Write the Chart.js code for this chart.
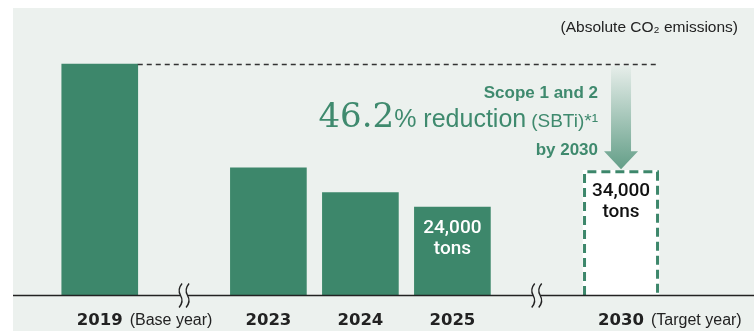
<!DOCTYPE html>
<html>
<head>
<meta charset="utf-8">
<script src="https://cdn.jsdelivr.net/npm/chart.js@4"></script>
<style>
  html, body { margin: 0; padding: 0; background: #fff; }
  canvas { display: block; }
</style>
</head>
<body>
<canvas id="co2Chart" width="754" height="331"></canvas>
<script>
// chart data
const years = ["2019", "2023", "2024", "2025", "2030"];
const yearNotes = ["(Base year)", "", "", "", "(Target year)"];
const emissions = [63000, 34700, 27900, 24000, 34000];
const valueLabels = ["", "", "", "24,000", "34,000"];
const valueUnit = "tons";
const breaksBefore = ["2023", "2030"];
const baseYear = "2019";
const targetYear = "2030";
const reductionPct = "46.2";

const GREEN = "#3d876b";
const TEXT_GREEN = "#3f8a6e";
const BG = "#ecf1ee";
const BREAK_EXTRA = 0.833;

// slot positions, with extra room where the axis is broken
const xPos = [];
let p = 0;
years.forEach((y, i) => {
  if (i > 0) p += 1 + (breaksBefore.includes(y) ? BREAK_EXTRA : 0);
  xPos.push(p);
});

const baseIdx = years.indexOf(baseYear);
const targetIdx = years.indexOf(targetYear);

const overlay = {
  id: "overlay",
  beforeDraw(chart) {
    const ctx = chart.ctx;
    ctx.save();
    ctx.fillStyle = BG;
    ctx.fillRect(13, 8, 741, 323);
    ctx.restore();
  },
  afterDatasetsDraw(chart) {
    const ctx = chart.ctx;
    const xs = chart.scales.x;
    const ys = chart.scales.y;
    const area = chart.chartArea;
    const bars = chart.getDatasetMeta(0).data;
    const half = bars[0].width / 2;
    ctx.save();

    // dashed reference line at base year level
    const baseY = ys.getPixelForValue(emissions[baseIdx]);
    ctx.strokeStyle = "#333";
    ctx.lineWidth = 1.3;
    ctx.setLineDash([5, 4]);
    ctx.beginPath();
    ctx.moveTo(bars[baseIdx].x + half, baseY + 0.5);
    ctx.lineTo(bars[targetIdx].x + half, baseY + 0.5);
    ctx.stroke();

    // dashed outline of the target bar
    const tb = bars[targetIdx];
    ctx.strokeStyle = GREEN;
    ctx.lineWidth = 3;
    ctx.setLineDash([9, 5]);
    ctx.beginPath();
    ctx.moveTo(tb.x - half + 1.5, area.bottom);
    ctx.lineTo(tb.x - half + 1.5, tb.y + 1.5);
    ctx.lineTo(tb.x + half - 1.5, tb.y + 1.5);
    ctx.lineTo(tb.x + half - 1.5, area.bottom);
    ctx.stroke();
    ctx.setLineDash([]);

    // axis line
    ctx.strokeStyle = "#222";
    ctx.lineWidth = 1.5;
    ctx.beginPath();
    ctx.moveTo(area.left, area.bottom + 0.5);
    ctx.lineTo(area.right, area.bottom + 0.5);
    ctx.stroke();

    // axis break marks
    breaksBefore.forEach((y) => {
      const i = years.indexOf(y);
      const cx = xs.getPixelForValue((xPos[i] + xPos[i - 1]) / 2);
      const cy = area.bottom + 0.5;
      ctx.fillStyle = BG;
      ctx.fillRect(cx - 3.5, cy - 2, 7, 4);
      ctx.strokeStyle = "#222";
      ctx.lineWidth = 1.4;
      [-3.5, 3.5].forEach((dx) => {
        const x = cx + dx;
        ctx.beginPath();
        ctx.moveTo(x + 1.5, cy - 12);
        ctx.quadraticCurveTo(x - 3.5, cy - 6, x, cy);
        ctx.quadraticCurveTo(x + 3.5, cy + 6, x - 1.5, cy + 12);
        ctx.stroke();
      });
    });

    // arrow from base level down to target
    const ax = tb.x;
    const top = baseY + 2;
    const tip = tb.y - 1;
    const headTop = tip - 18;
    const grad = ctx.createLinearGradient(0, top, 0, tip);
    grad.addColorStop(0, "rgba(61,135,107,0.03)");
    grad.addColorStop(1, "rgba(61,135,107,0.78)");
    ctx.fillStyle = grad;
    ctx.beginPath();
    ctx.moveTo(ax - 10, top);
    ctx.lineTo(ax + 10, top);
    ctx.lineTo(ax + 10, headTop);
    ctx.lineTo(ax + 17, headTop);
    ctx.lineTo(ax, tip);
    ctx.lineTo(ax - 17, headTop);
    ctx.lineTo(ax - 10, headTop);
    ctx.closePath();
    ctx.fill();

    // value labels inside bars
    ctx.textAlign = "center";
    ctx.textBaseline = "alphabetic";
    valueLabels.forEach((v, i) => {
      if (!v) return;
      const b = bars[i];
      ctx.fillStyle = i === targetIdx ? "#111" : "#fff";
      ctx.font = "500 19px Roboto, 'Liberation Sans', sans-serif";
      ctx.fillText(v, b.x, b.y + 26);
      ctx.fillText(valueUnit, b.x, b.y + 47);
    });

    // x labels
    years.forEach((y, i) => {
      const x = bars[i].x;
      const by = area.bottom + 30;
      ctx.font = "bold 16.5px 'DejaVu Sans', sans-serif";
      ctx.fillStyle = "#222";
      ctx.textAlign = "center";
      ctx.fillText(y, x, by);
      if (yearNotes[i]) {
        const w = ctx.measureText(y).width;
        ctx.font = "16px 'Liberation Sans', sans-serif";
        ctx.textAlign = "left";
        ctx.fillText(yearNotes[i], x + w / 2 + 7, by);
      }
    });

    // unit note
    ctx.font = "15.5px 'Liberation Sans', sans-serif";
    ctx.fillStyle = "#222";
    ctx.textAlign = "right";
    ctx.fillText("(Absolute CO\u2082 emissions)", 738, 32);

    // reduction annotation
    const rx = ax - 23;
    ctx.fillStyle = TEXT_GREEN;
    ctx.textAlign = "right";
    ctx.font = "bold 17px 'Liberation Sans', sans-serif";
    ctx.fillText("Scope 1 and 2", rx, 98);
    ctx.fillText("by " + targetYear, rx, 155);

    let cur = rx;
    ctx.font = "19px 'Liberation Sans', sans-serif";
    ctx.fillText("(SBTi)*\u00b9", cur, 127);
    cur -= ctx.measureText("(SBTi)*\u00b9").width + 5;
    ctx.font = "25px 'Liberation Sans', sans-serif";
    ctx.fillText("% reduction", cur, 127);
    cur -= ctx.measureText("% reduction").width;
    ctx.font = "34px 'DejaVu Serif', serif";
    ctx.fillText(reductionPct, cur, 127);

    ctx.restore();
  },
};

new Chart(document.getElementById("co2Chart"), {
  type: "bar",
  data: {
    datasets: [
      {
        data: years.map((y, i) => ({ x: xPos[i], y: emissions[i] })),
        backgroundColor: years.map((y) => (y === targetYear ? "#fff" : GREEN)),
        borderWidth: 0,
        barThickness: 76,
      },
    ],
  },
  options: {
    responsive: false,
    animation: false,
    layout: { padding: { left: 13, right: 0, top: 8, bottom: 36 } },
    scales: {
      x: { type: "linear", display: false, offset: false, min: -0.943, max: -0.943 + 741 / 92 },
      y: { display: false, min: 0, max: 78273 },
    },
    plugins: {
      legend: { display: false },
      tooltip: { enabled: false },
    },
  },
  plugins: [overlay],
});
</script>
</body>
</html>
